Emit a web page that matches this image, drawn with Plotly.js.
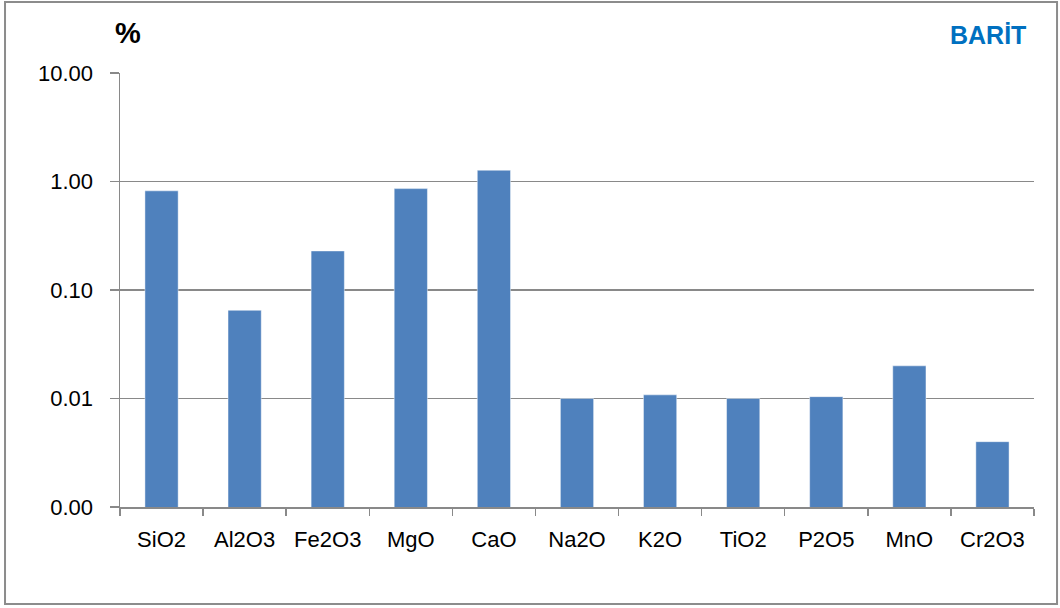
<!DOCTYPE html>
<html>
<head>
<meta charset="utf-8">
<script src="https://cdn.plot.ly/plotly-3.0.1.min.js"></script>
<style>
html,body{margin:0;padding:0;background:#fff;}
#chart{width:1060px;height:608px;}
</style>
</head>
<body>
<div id="chart"></div>
<script>
const categories = ["SiO2","Al2O3","Fe2O3","MgO","CaO","Na2O","K2O","TiO2","P2O5","MnO","Cr2O3"];
const values = [0.82, 0.065, 0.229, 0.86, 1.27, 0.010, 0.0108, 0.010, 0.0104, 0.020, 0.0040];
const yTickVals = [0.001, 0.01, 0.1, 1, 10];
const yTickText = ["0.00", "0.01", "0.10", "1.00", "10.00"];

const font = "Liberation Sans, Arial, sans-serif";
const grid = "#898989";

const trace = {
  type: "bar",
  x: categories,
  y: values,
  marker: {color: "#4F81BD", line: {color: "rgba(255,255,255,0.45)", width: 1}},
  hoverinfo: "x+y"
};

const layout = {
  width: 1060, height: 608,
  margin: {l: 120, r: 26, t: 73, b: 101},
  paper_bgcolor: "#ffffff",
  plot_bgcolor: "#ffffff",
  showlegend: false,
  bargap: 0.6,
  font: {family: font, size: 22, color: "#000"},
  xaxis: {
    type: "category",
    showgrid: false,
    showline: true, linecolor: grid, linewidth: 1.5,
    ticks: "outside", ticklen: 7, tickcolor: grid, tickwidth: 1.5,
    tickson: "boundaries",
    ticklabelstandoff: 12,
    tickfont: {family: font, size: 22, color: "#000"},
    zeroline: false
  },
  yaxis: {
    type: "log",
    range: [-3, 1],
    tickvals: yTickVals,
    ticktext: yTickText,
    showgrid: true, gridcolor: grid, gridwidth: 1.5,
    showline: true, linecolor: grid, linewidth: 1.5,
    ticks: "outside", ticklen: 9, tickcolor: grid, tickwidth: 1.5,
    ticklabelstandoff: 12,
    tickfont: {family: font, size: 22, color: "#000"},
    zeroline: false
  },
  shapes: [
    {type: "rect", xref: "paper", yref: "paper", x0: -0.1258, x1: 1.0252, y0: -0.2235, y1: 1.1636,
     line: {color: "#8c8c8c", width: 2}, fillcolor: "rgba(0,0,0,0)", layer: "below"}
  ],
  annotations: [
    {text: "<b>%</b>", xref: "paper", yref: "paper", x: 0.0085, y: 1.0, xanchor: "center", yanchor: "bottom",
     yshift: 22, showarrow: false, font: {family: font, size: 29, color: "#000"}},
    {text: "<b>BARİT</b>", xref: "paper", yref: "paper", x: 0.9935, y: 1.0, xanchor: "right", yanchor: "bottom",
     yshift: 22, showarrow: false, font: {family: font, size: 25, color: "#0070C0"}}
  ]
};

Plotly.newPlot("chart", [trace], layout, {displayModeBar: false, staticPlot: true});
</script>
</body>
</html>
